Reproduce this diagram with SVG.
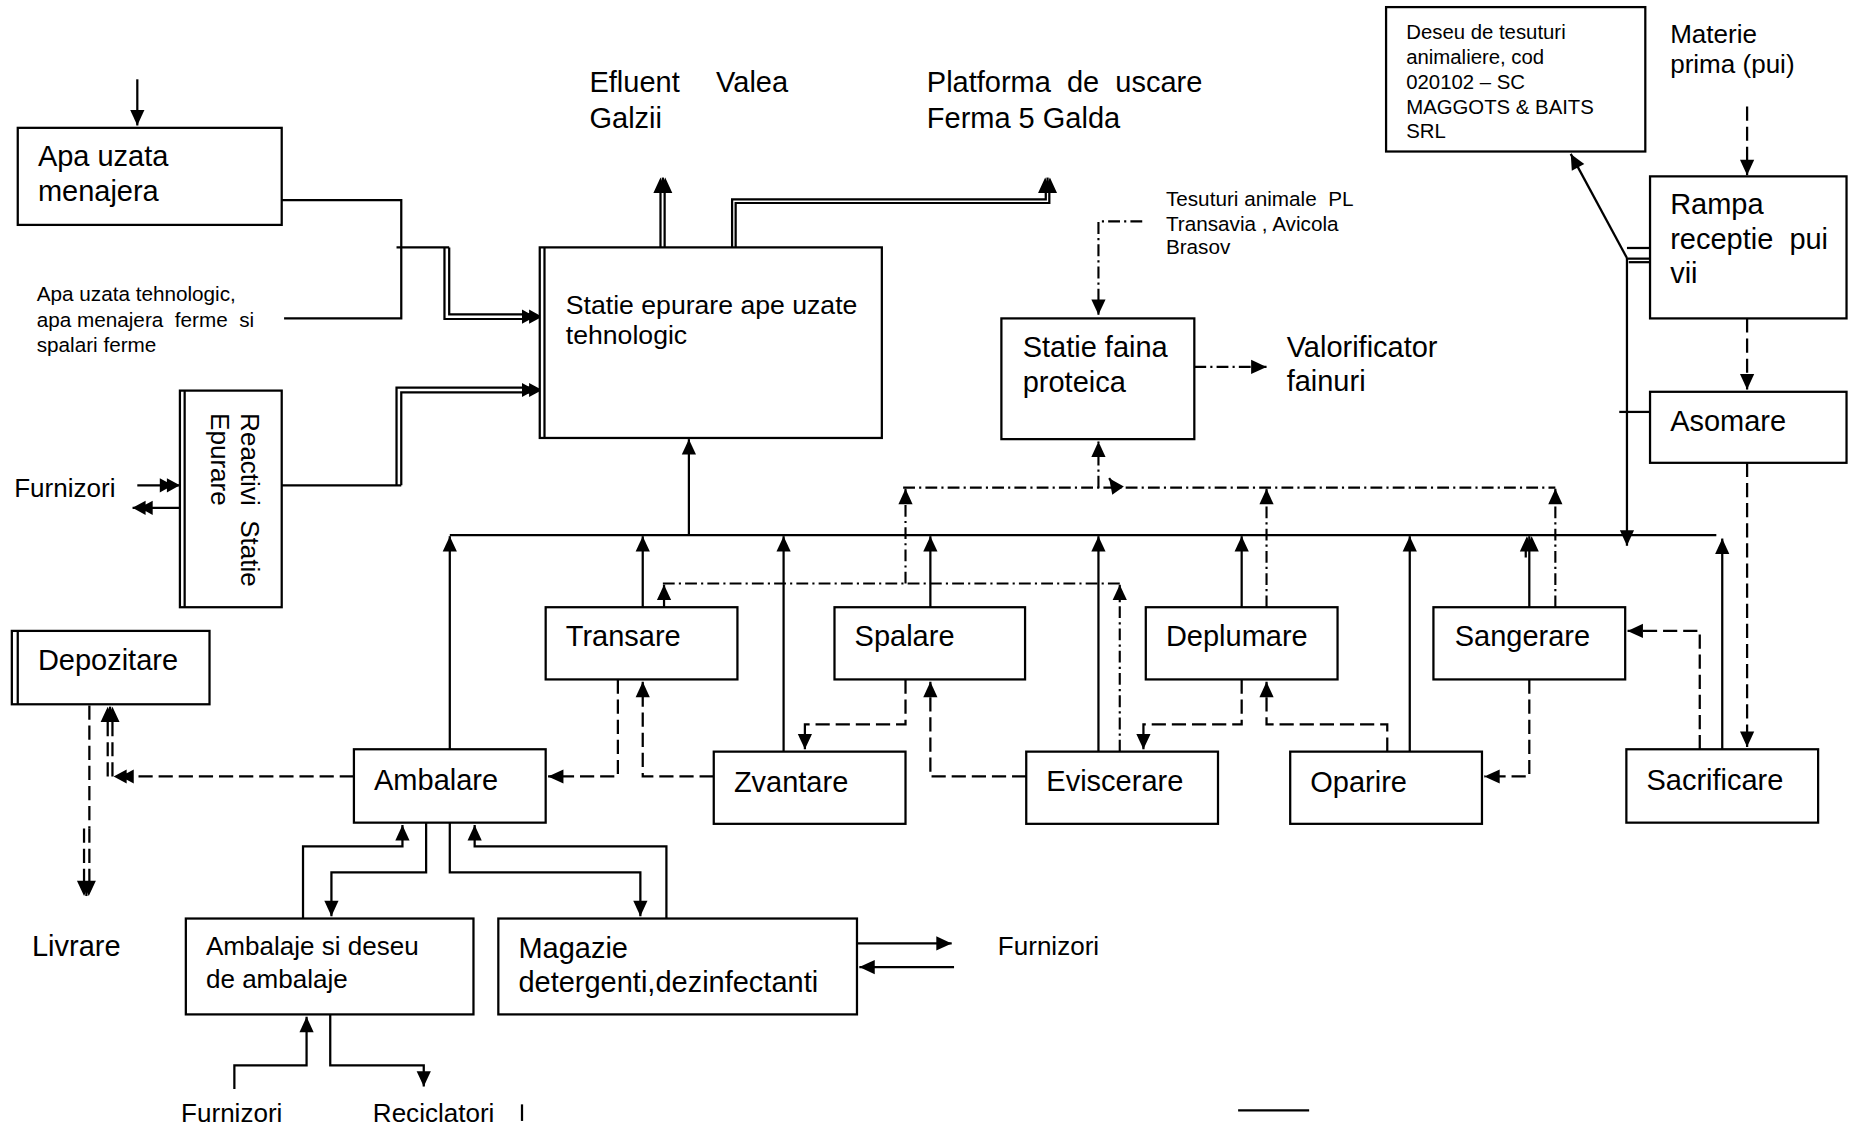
<svg xmlns="http://www.w3.org/2000/svg" width="1856" height="1125" viewBox="0 0 1856 1125">
<defs>
<style>
.box{fill:#fff;stroke:#000;stroke-width:1.9}
.ln{fill:none;stroke:#000;stroke-width:1.9}
.ds{fill:none;stroke:#000;stroke-width:1.9;stroke-dasharray:12 5}
.dd{fill:none;stroke:#000;stroke-width:1.8;stroke-dasharray:10 3.5 1.8 3.5}
text{font-family:"Liberation Sans",Arial,sans-serif;fill:#000}
.t{font-size:24.5px}
.st{font-size:22.5px}
.m{font-size:22px}
.s{font-size:17.5px}
.xs{font-size:17.2px}
</style>
<marker id="a" markerUnits="userSpaceOnUse" markerWidth="16" markerHeight="14" refX="13" refY="6" orient="auto" overflow="visible"><path d="M0,0 L13,6 L0,12 z"/></marker>
<marker id="as" markerUnits="userSpaceOnUse" markerWidth="16" markerHeight="18" refX="13" refY="8" orient="auto" overflow="visible"><path d="M0,0 L13,6 L0,12 z M0,4 L13,10 L0,16 z"/></marker>
<marker id="at" markerUnits="userSpaceOnUse" markerWidth="20" markerHeight="14" refX="17" refY="6" orient="auto" overflow="visible"><path d="M0,0 L11,6 L0,12 z M6,0 L17,6 L6,12 z"/></marker>
</defs>
<rect x="0" y="0" width="1856" height="1125" fill="#fff"/>
<g transform="scale(1.183673)">

<g id="connectors">
  <!-- solid -->
  <path class="ln" d="M116,67 V106" marker-end="url(#a)"/>
  <path class="ln" d="M238,169 H339 V269 H240"/>
  <path class="ln" d="M335,209 H379.5"/>
  <path class="ln" d="M375.5,209 V269.5 H452"/>
  <path class="ln" d="M379.5,209 V265.5 H452"/>
  <path class="ln" d="M452,267.5 H458" marker-end="url(#at)"/>
  <path class="ln" d="M238,410 H339"/>
  <path class="ln" d="M335,410 V327.5 H452"/>
  <path class="ln" d="M339,410 V331.5 H452"/>
  <path class="ln" d="M452,329.5 H458" marker-end="url(#at)"/>
  <path class="ln" d="M116,410 H152" marker-end="url(#at)"/>
  <path class="ln" d="M152,429 H112" marker-end="url(#at)"/>
  <!-- effluent -->
  <path class="ln" d="M558,209 V160"/>
  <path class="ln" d="M561.5,209 V160"/>
  <path class="ln" d="M560,162 V150" marker-end="url(#as)"/>
  <!-- platforma -->
  <path class="ln" d="M618.5,209 V168.5 H883.5 V162"/>
  <path class="ln" d="M621.5,209 V171.5 H886.5 V162"/>
  <path class="ln" d="M885,162 V150" marker-end="url(#as)"/>
  <!-- bus -->
  <path class="ln" d="M380,452 H1450"/>
  <path class="ln" d="M582,452 V371" marker-end="url(#a)"/>
  <path class="ln" d="M380,633 V453" marker-end="url(#a)"/>
  <path class="ln" d="M543,513 V453" marker-end="url(#a)"/>
  <path class="ln" d="M662,635 V453" marker-end="url(#a)"/>
  <path class="ln" d="M786,513 V453" marker-end="url(#a)"/>
  <path class="ln" d="M928,635 V453" marker-end="url(#a)"/>
  <path class="ln" d="M1049,513 V453" marker-end="url(#a)"/>
  <path class="ln" d="M1191,635 V453" marker-end="url(#a)"/>
  <path class="ln" d="M1292,513 V453" marker-end="url(#as)"/>
  <path class="ln" d="M1289,471 V460"/>
  <path class="ln" d="M1455,633 V455" marker-end="url(#a)"/>
  <!-- rampa -->
  <path class="ln" d="M1374.5,218 V461" marker-end="url(#a)"/>
  <path class="ln" d="M1374.5,218 L1327,130" marker-end="url(#a)"/>
  <path class="ln" d="M1374.5,209.5 H1394"/>
  <path class="ln" d="M1374.5,218.5 H1394"/>
  <path class="ln" d="M1376,221.5 H1394"/>
  <path class="ln" d="M1368,348 H1394"/>
  <!-- ambalare bottom -->
  <path class="ln" d="M256,776 V715 H340 V697" marker-end="url(#a)"/>
  <path class="ln" d="M360,695 V737 H280 V774" marker-end="url(#a)"/>
  <path class="ln" d="M380,695 V737 H541 V774" marker-end="url(#a)"/>
  <path class="ln" d="M563,776 V715 H401 V697" marker-end="url(#a)"/>
  <path class="ln" d="M198,920 V900 H259 V859" marker-end="url(#a)"/>
  <path class="ln" d="M279,857 V900 H358 V918" marker-end="url(#a)"/>
  <path class="ln" d="M724,797 H804" marker-end="url(#a)"/>
  <path class="ln" d="M806,817 H726" marker-end="url(#a)"/>
  <!-- dashed main flow -->
  <path class="ds" d="M1476,90 V148" marker-end="url(#a)"/>
  <path class="ds" d="M1476,269 V329" marker-end="url(#a)"/>
  <path class="ds" d="M1476,391 V631" marker-end="url(#a)"/>
  <path class="ds" d="M1436,633 V533 H1375" marker-end="url(#a)"/>
  <path class="ds" d="M1292,574 V656 H1254" marker-end="url(#a)"/>
  <path class="ds" d="M1172,635 V612 H1070 V576" marker-end="url(#a)"/>
  <path class="ds" d="M1049,574 V612 H966 V633" marker-end="url(#a)"/>
  <path class="ds" d="M867,656 H786 V576" marker-end="url(#a)"/>
  <path class="ds" d="M765,574 V612 H680 V633" marker-end="url(#a)"/>
  <path class="ds" d="M603,656 H543 V576" marker-end="url(#a)"/>
  <path class="ds" d="M522,574 V656 H463" marker-end="url(#a)"/>
  <path class="ds" d="M299,656 H96" marker-end="url(#at)"/>
  <path class="ds" d="M91,656 V600"/>
  <path class="ds" d="M95,656 V600"/>
  <path class="ln" d="M93,602 V597" marker-end="url(#as)"/>
  <path class="ds" d="M75.5,596 V700"/>
  <path class="ds" d="M71,700 V745"/>
  <path class="ds" d="M75.5,700 V745"/>
  <path class="ln" d="M73,745 V757" marker-end="url(#as)"/>
  <!-- dash-dot -->
  <path class="dd" d="M965,187 H928 V266" marker-end="url(#a)"/>
  <path class="dd" d="M1009,310 H1070" marker-end="url(#a)"/>
  <path class="dd" d="M763,412 H1314"/>
  <path class="dd" d="M928,412 V373" marker-end="url(#a)"/>
  <path class="ln" d="M942,411 L937,404" marker-end="url(#a)"/>
  <path class="dd" d="M1070,513 V413" marker-end="url(#a)"/>
  <path class="dd" d="M1314,513 V413" marker-end="url(#a)"/>
  <path class="dd" d="M765,493 V413" marker-end="url(#a)"/>
  <path class="dd" d="M560,493 H946"/>
  <path class="ln" d="M561,513 V494" marker-end="url(#a)"/>
  <path class="dd" d="M946,635 V494" marker-end="url(#a)"/>
  <!-- stray marks -->
  <path class="ln" d="M441,933 V947" stroke-width="1"/>
  <path class="ln" d="M1046,938 H1106" stroke-width="1.3"/>
</g>

<g id="n-apa-menajera"><rect class="box" x="15" y="108" width="223" height="82"/><text class="t" x="32" y="140">Apa uzata</text><text class="t" x="32" y="170">menajera</text></g>
<g id="t-apa-tehnologic"><text class="s" x="31" y="254">Apa uzata tehnologic,</text><text class="s" x="31" y="276" xml:space="preserve">apa menajera  ferme  si</text><text class="s" x="31" y="297">spalari ferme</text></g>
<g id="n-reactivi"><rect class="box" x="152" y="330" width="86" height="183"/><path class="ln" d="M156,330 V513"/><text class="m" transform="translate(204,349) rotate(90)" xml:space="preserve">Reactivi  Statie</text><text class="m" transform="translate(178,349) rotate(90)">Epurare</text></g>
<g id="t-furnizori-1"><text class="m" x="12" y="420">Furnizori</text></g>
<g id="n-statie-epurare"><rect class="box" x="456" y="209" width="289" height="161"/><path class="ln" d="M460,209 V370"/><text class="st" x="478" y="265">Statie epurare ape uzate</text><text class="st" x="478" y="291">tehnologic</text></g>
<g id="t-efluent"><text class="t" x="498" y="78">Efluent</text><text class="t" x="605" y="78">Valea</text><text class="t" x="498" y="108">Galzii</text></g>
<g id="t-platforma"><text class="t" x="783" y="78" xml:space="preserve">Platforma  de  uscare</text><text class="t" x="783" y="108">Ferma 5 Galda</text></g>
<g id="t-tesuturi"><text class="s" x="985" y="174" xml:space="preserve">Tesuturi animale  PL</text><text class="s" x="985" y="195">Transavia , Avicola</text><text class="s" x="985" y="215">Brasov</text></g>
<g id="n-faina"><rect class="box" x="846" y="269" width="163" height="102"/><text class="t" x="864" y="302">Statie faina</text><text class="t" x="864" y="331">proteica</text></g>
<g id="t-valorificator"><text class="t" x="1087" y="302">Valorificator</text><text class="t" x="1087" y="330">fainuri</text></g>
<g id="n-deseu"><rect class="box" x="1171" y="6" width="219" height="122"/><text class="xs" x="1188" y="33">Deseu de tesuturi</text><text class="xs" x="1188" y="54">animaliere, cod</text><text class="xs" x="1188" y="75">020102 – SC</text><text class="xs" x="1188" y="96">MAGGOTS &amp; BAITS</text><text class="xs" x="1188" y="117">SRL</text></g>
<g id="t-materie"><text class="m" x="1411" y="36">Materie</text><text class="m" x="1411" y="62">prima (pui)</text></g>
<g id="n-rampa"><rect class="box" x="1394" y="149" width="166" height="120"/><text class="t" x="1411" y="181">Rampa</text><text class="t" x="1411" y="210" xml:space="preserve">receptie  pui</text><text class="t" x="1411" y="239">vii</text></g>
<g id="n-asomare"><rect class="box" x="1394" y="331" width="166" height="60"/><text class="t" x="1411" y="364">Asomare</text></g>
<g id="n-depozitare"><rect class="box" x="10" y="533" width="167" height="62"/><path class="ln" d="M15,533 V595"/><text class="t" x="32" y="566">Depozitare</text></g>
<g id="n-transare"><rect class="box" x="461" y="513" width="162" height="61"/><text class="t" x="478" y="546">Transare</text></g>
<g id="n-spalare"><rect class="box" x="705" y="513" width="161" height="61"/><text class="t" x="722" y="546">Spalare</text></g>
<g id="n-deplumare"><rect class="box" x="968" y="513" width="162" height="61"/><text class="t" x="985" y="546">Deplumare</text></g>
<g id="n-sangerare"><rect class="box" x="1211" y="513" width="162" height="61"/><text class="t" x="1229" y="546">Sangerare</text></g>
<g id="n-ambalare"><rect class="box" x="299" y="633" width="162" height="62"/><text class="t" x="316" y="667">Ambalare</text></g>
<g id="n-zvantare"><rect class="box" x="603" y="635" width="162" height="61"/><text class="t" x="620" y="669">Zvantare</text></g>
<g id="n-eviscerare"><rect class="box" x="867" y="635" width="162" height="61"/><text class="t" x="884" y="668">Eviscerare</text></g>
<g id="n-oparire"><rect class="box" x="1090" y="635" width="162" height="61"/><text class="t" x="1107" y="669">Oparire</text></g>
<g id="n-sacrificare"><rect class="box" x="1374" y="633" width="162" height="62"/><text class="t" x="1391" y="667">Sacrificare</text></g>
<g id="t-livrare"><text class="t" x="27" y="808">Livrare</text></g>
<g id="n-ambalaje"><rect class="box" x="157" y="776" width="243" height="81"/><text class="m" x="174" y="807">Ambalaje si deseu</text><text class="m" x="174" y="835">de ambalaje</text></g>
<g id="n-magazie"><rect class="box" x="421" y="776" width="303" height="81"/><text class="t" x="438" y="809">Magazie</text><text class="t" x="438" y="838">detergenti,dezinfectanti</text></g>
<g id="t-furnizori-2"><text class="m" x="843" y="807">Furnizori</text></g>
<g id="t-furnizori-3"><text class="m" x="153" y="948">Furnizori</text></g>
<g id="t-reciclatori"><text class="m" x="315" y="948">Reciclatori</text></g>
</g>
</svg>
